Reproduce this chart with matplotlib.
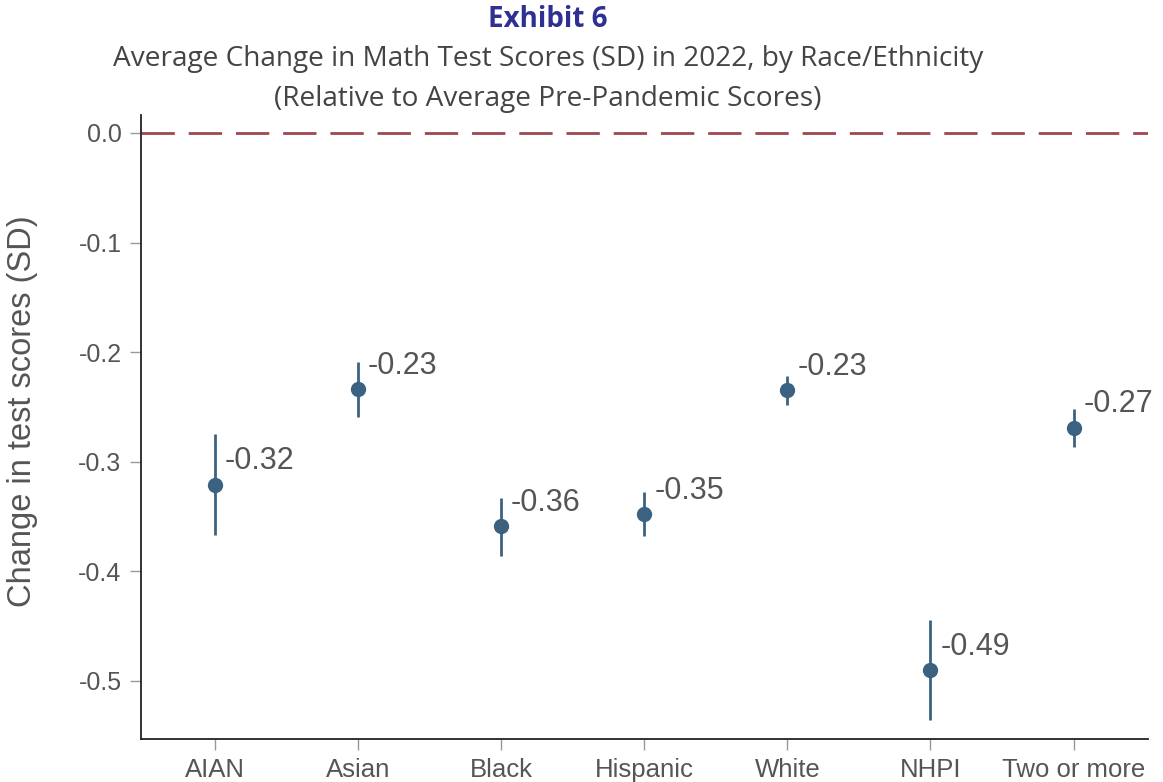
import matplotlib.pyplot as plt
import numpy as np

# data
groups = ['AIAN', 'Asian', 'Black', 'Hispanic', 'White', 'NHPI', 'Two or more']
change = [-0.321, -0.234, -0.359, -0.348, -0.235, -0.490, -0.269]
ci_low = [-0.367, -0.259, -0.386, -0.368, -0.248, -0.536, -0.287]
ci_high = [-0.275, -0.209, -0.333, -0.328, -0.222, -0.444, -0.252]
labels = ['-0.32', '-0.23', '-0.36', '-0.35', '-0.23', '-0.49', '-0.27']
yticks = [0.0, -0.1, -0.2, -0.3, -0.4, -0.5]

pt_color = '#3b6381'
txt_color = '#555555'

fig = plt.figure(figsize=(11.63, 7.82), dpi=100)
ax = fig.add_axes([0.1212, 0.055, 0.8658, 0.798])

x = np.arange(len(groups))
yerr = [np.array(change) - np.array(ci_low), np.array(ci_high) - np.array(change)]

# zero reference line
ax.axhline(0, color='#a0464f', linewidth=2, dashes=(12, 5), zorder=1)

ax.errorbar(x, change, yerr=yerr, fmt='o', color=pt_color, markersize=10,
            elinewidth=2, capsize=0, zorder=3)

for xi, yi, lab in zip(x, change, labels):
    ax.annotate(lab, (xi, yi), xytext=(7, 11), textcoords='offset points',
                ha='left', va='baseline', fontsize=22, color=txt_color,
                family='Liberation Sans')

ax.set_xlim(-0.52, 6.52)
ax.set_ylim(-0.553, 0.0164)
ax.set_xticks(x)
ax.set_xticklabels(groups)
ax.set_yticks(yticks)
ax.set_yticklabels(['%.1f' % v for v in yticks])

for s in ['top', 'right']:
    ax.spines[s].set_visible(False)
for s in ['left', 'bottom']:
    ax.spines[s].set_color('#222222')
    ax.spines[s].set_linewidth(1.3)

ax.tick_params(axis='both', direction='out', length=8, width=1, color='#999999',
               labelcolor=txt_color, pad=6)
ax.tick_params(axis='x', labelsize=18.5)
ax.tick_params(axis='y', labelsize=18)
for t in ax.get_xticklabels() + ax.get_yticklabels():
    t.set_family('Liberation Sans')

ax.set_ylabel('Change in test scores (SD)', fontsize=23.5, color=txt_color,
              family='Liberation Sans')
ax.yaxis.set_label_coords(-0.102, 0.526)

fig.text(0.471, 0.975, 'Exhibit 6', ha='center', va='center', fontsize=20,
         fontweight='bold', color='#2e3192', family='Open Sans')
fig.text(0.471, 0.925, 'Average Change in Math Test Scores (SD) in 2022, by Race/Ethnicity',
         ha='center', va='center', fontsize=20.2, color='#444444', family='Open Sans')
fig.text(0.471, 0.874, '(Relative to Average Pre-Pandemic Scores)',
         ha='center', va='center', fontsize=20.2, color='#444444', family='Open Sans')

fig.savefig('out.png', dpi=100)
